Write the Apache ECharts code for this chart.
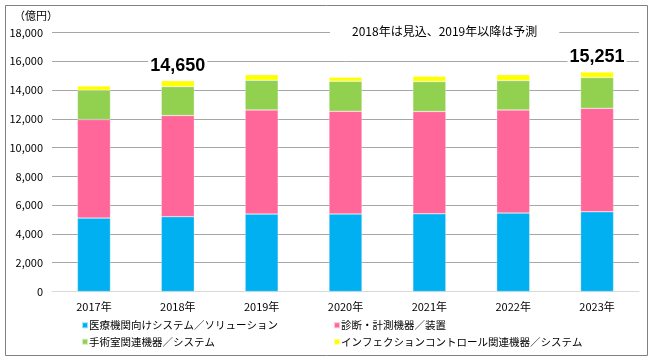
<!DOCTYPE html>
<html><head><meta charset="utf-8">
<script src="https://cdn.jsdelivr.net/npm/echarts@6/dist/echarts.min.js"></script>
<style>html,body{margin:0;padding:0;background:#fff}#c{width:654px;height:362px}</style>
</head><body><div id="c"></div>
<script>
const categories = ['2017年','2018年','2019年','2020年','2021年','2022年','2023年'];
const seriesNames = ['医療機関向けシステム／ソリューション','診断・計測機器／装置','手術室関連機器／システム','インフェクションコントロール関連機器／システム'];
const medicalSystems = [5100, 5200, 5380, 5390, 5400, 5450, 5540];
const diagnostics = [6850, 7030, 7240, 7140, 7110, 7170, 7190];
const surgical = [2040, 2010, 2060, 2080, 2080, 2040, 2140];
const infection = [300, 410, 390, 280, 370, 410, 381];
const labelledYears = [1, 6];
const colors = ['#00B0F0', '#FF6699', '#92D050', '#FFFF00'];
const font = '"Noto Sans CJK JP", sans-serif';

const chart = echarts.init(document.getElementById('c'), null, {renderer: 'canvas'});
const values = [medicalSystems, diagnostics, surgical, infection];
const fmt = v => String(v).replace(/\B(?=(\d{3})+(?!\d))/g, ',');
const series = values.map((arr, si) => ({
  name: seriesNames[si], type: 'bar', stack: 'total', barWidth: 33,
  itemStyle: {color: colors[si], borderColor: 'rgba(255,255,255,0.6)', borderWidth: 0.5},
  data: arr.map((v, i) => {
    if (si === 3 && labelledYears.includes(i)) {
      const total = values.reduce((s, a) => s + a[i], 0);
      return {value: v, label: {show: true, position: 'top', distance: 6, formatter: fmt(total),
        fontSize: 18, fontWeight: 'bold', color: '#000', fontFamily: '"Liberation Sans Narrow", "Liberation Sans", sans-serif',
        backgroundColor: '#fff', padding: [0, 2]}};
    }
    return v;
  })
}));

chart.setOption({
  animation: false,
  grid: {left: 52, right: 15, top: 32.5, bottom: 70.5},
  graphic: [
    {type: 'rect', shape: {x: 5.5, y: 5.5, width: 642, height: 350}, style: {fill: 'none', stroke: '#808080', lineWidth: 1}, z: -1},
    {type: 'text', left: 14, top: 10, style: {text: '（億円）', font: '11px ' + font, fill: '#000'}},
    {type: 'text', left: 330, top: 25, style: {text: '2018年は見込、2019年以降は予測', font: '12px ' + font, fill: '#000', backgroundColor: '#fff', padding: [0, 22]}, z: 10}
  ],
  legend: [
    {data: [seriesNames[0], seriesNames[2]], orient: 'vertical', left: 76, top: 315, itemWidth: 6, itemHeight: 6, itemGap: 6,
      icon: 'rect', textStyle: {fontSize: 10.5, fontFamily: font, color: '#000', padding: [0,0,0,-4]}},
    {data: [seriesNames[1], seriesNames[3]], orient: 'vertical', left: 328, top: 315, itemWidth: 6, itemHeight: 6, itemGap: 6,
      icon: 'rect', textStyle: {fontSize: 10.5, fontFamily: font, color: '#000', padding: [0,0,0,-4]}}
  ],
  xAxis: {type: 'category', data: categories,
    axisLine: {lineStyle: {color: '#D9D9D9', width: 1}}, axisTick: {show: false},
    axisLabel: {color: '#000', fontSize: 11, fontFamily: font, margin: 10}},
  yAxis: {type: 'value', min: 0, max: 18000, interval: 2000,
    axisLine: {show: false}, axisTick: {show: false},
    splitLine: {lineStyle: {color: '#A6A6A6', width: 1}},
    axisLabel: {color: '#000', fontSize: 11, fontFamily: font, margin: 9, formatter: v => fmt(v)}},
  series: series
});
</script></body></html>
